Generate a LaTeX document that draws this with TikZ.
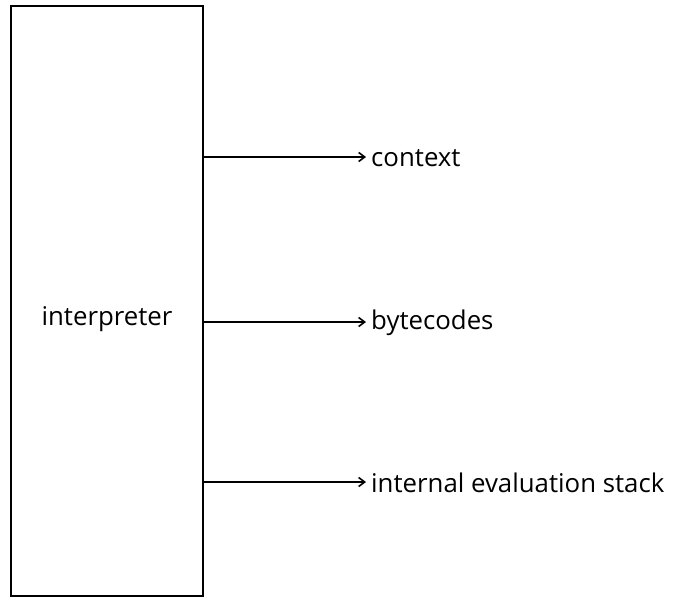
\documentclass[tikz,border=0pt]{standalone}
\usepackage{fontspec}
\setmainfont{Open Sans}
\usetikzlibrary{arrows.meta}
\begin{document}
\begin{tikzpicture}[x=1pt,y=-1pt,
  txt/.style={font=\fontsize{25.8}{30}\selectfont, inner sep=0pt},
  lbl/.style={txt, anchor=west},
  conn/.style={line width=1.6pt, -{Straight Barb[length=6pt,width=9pt,line width=1.6pt]}}]
\useasboundingbox (0,0) rectangle (674,597);
\node[draw, line width=1.8pt, minimum width=192pt, minimum height=590pt, inner sep=0pt] (interp) at (107,301) {};
\node[txt] (itext) at (107,319) {interpreter};
\node[lbl] (ctx) at (371,158) {context};
\node[lbl] (byte) at (371,323) {bytecodes};
\node[lbl] (ies) at (371,483) {internal evaluation stack};
\coordinate (s1) at (interp.east |- 0,157);
\coordinate (s2) at (interp.east |- 0,322);
\coordinate (s3) at (interp.east |- 0,482);
\coordinate (e1) at (366,157);
\coordinate (e2) at (366,322);
\coordinate (e3) at (366,482);
\draw[conn] (s1) -- (e1);
\draw[conn] (s2) -- (e2);
\draw[conn] (s3) -- (e3);
\end{tikzpicture}
\end{document}
